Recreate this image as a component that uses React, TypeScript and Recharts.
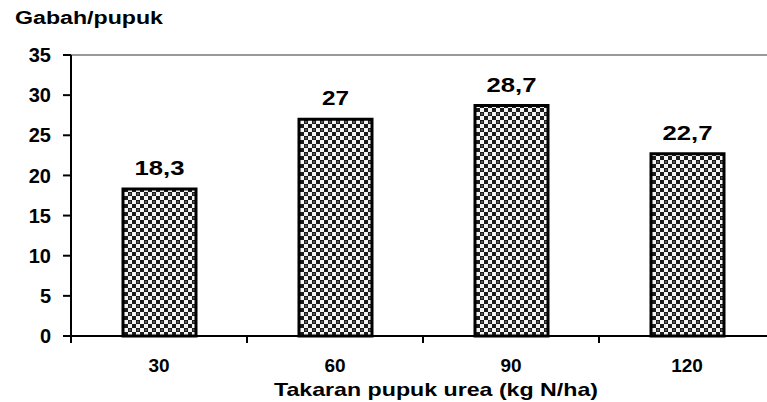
import { BarChart, Bar, XAxis, YAxis, ReferenceLine, LabelList } from "recharts"

const doses = ["30", "60", "90", "120"]
const ratio = [18.3, 27, 28.7, 22.7]
const yTicks = [0, 5, 10, 15, 20, 25, 30, 35]

const data = doses.map((d, i) => ({ dose: d, value: ratio[i] }))

const font = "'Liberation Sans', Arial, sans-serif"
const band = 176

const DoseTick = ({ x, y, payload }: any) => (
  <g>
    <line x1={x - band / 2} y1={y - 8} x2={x - band / 2} y2={y - 1} stroke="#000" strokeWidth={2} />
    <text x={x} y={y + 28} textAnchor="middle" fontFamily={font} fontWeight={700} fontSize={19} fill="#000">
      {payload.value}
    </text>
  </g>
)

const ValueLabel = ({ x, y, width, value }: any) => {
  const s = String(value).replace(".", ",")
  return (
    <text
      x={x + width / 2}
      y={y - 14}
      textAnchor="middle"
      fontFamily={font}
      fontWeight={700}
      fontSize={20}
      fill="#000"
      textLength={s.length > 2 ? 50 : 27}
      lengthAdjust="spacingAndGlyphs"
    >
      {s}
    </text>
  )
}

const AxisTitle = () => (
  <text
    x={274}
    y={396}
    fontFamily={font}
    fontWeight={700}
    fontSize={19}
    fill="#000"
    textLength={324}
    lengthAdjust="spacingAndGlyphs"
  >
    Takaran pupuk urea (kg N/ha)
  </text>
)

export default function App() {
  return (
    <div style={{ position: "fixed", left: 0, top: 0, width: 767, height: 402, overflow: "hidden", background: "#fff" }}>
      <svg width={767} height={40} style={{ position: "absolute", left: 0, top: 0 }}>
        <text x={15} y={24} fontFamily={font} fontWeight={700} fontSize={18} fill="#000" textLength={148} lengthAdjust="spacingAndGlyphs">
          Gabah/pupuk
        </text>
      </svg>
      <BarChart width={790} height={402} data={data} margin={{ top: 55, right: 15, bottom: 0, left: 0 }} barSize={73}>
        <defs>
          <pattern id="checks" width="8" height="8" patternUnits="userSpaceOnUse">
            <rect width="8" height="8" fill="#f4f4f4" />
            <rect x="0" y="0" width="4" height="4" fill="#1c1c1c" />
            <rect x="4" y="4" width="4" height="4" fill="#1c1c1c" />
            <rect x="1" y="1" width="2" height="2" fill="#555" />
          </pattern>
        </defs>
        <ReferenceLine y={35} stroke="#777" strokeWidth={1.5} />
        <XAxis
          dataKey="dose"
          height={66}
          axisLine={{ stroke: "#000", strokeWidth: 2 }}
          tickLine={false}
          tick={<DoseTick />}
          interval={0}
          label={<AxisTitle />}
        />
        <YAxis
          width={71}
          domain={[0, 35]}
          ticks={yTicks}
          interval={0}
          tickSize={8}
          tickMargin={12}
          axisLine={{ stroke: "#000", strokeWidth: 2 }}
          tickLine={{ stroke: "#000", strokeWidth: 2 }}
          tick={{ fill: "#000", fontFamily: font, fontWeight: 700, fontSize: 20 }}
        />
        <Bar dataKey="value" fill="url(#checks)" stroke="#000" strokeWidth={3} isAnimationActive={false}>
          <LabelList dataKey="value" content={<ValueLabel />} />
        </Bar>
      </BarChart>
    </div>
  )
}
